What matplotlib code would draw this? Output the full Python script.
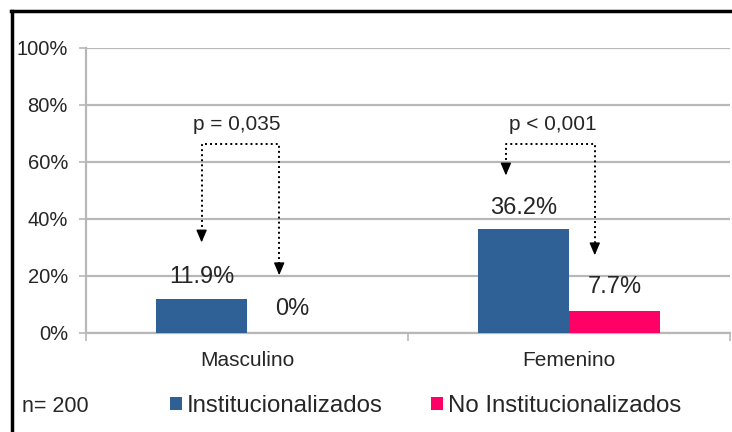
import matplotlib
matplotlib.use("Agg")
import matplotlib.pyplot as plt
from matplotlib.lines import Line2D
import numpy as np

plt.rcParams['font.family'] = ['Liberation Sans', 'DejaVu Sans']

categories = ["Masculino", "Femenino"]
series_names = ["Institucionalizados", "No Institucionalizados"]
inst = [11.9, 36.2]
no_inst = [0.0, 7.7]
value_labels_inst = ["11.9%", "36.2%"]
value_labels_no = ["0%", "7.7%"]
p_texts = ["p = 0,035", "p < 0,001"]
yticks = [0, 20, 40, 60, 80, 100]
ytick_labels = ["0%", "20%", "40%", "60%", "80%", "100%"]
n_text = "n= 200"

blue = "#2F6196"
pink = "#FF0066"
grid_c = "#B8B8B8"
txt_c = "#262626"

fig = plt.figure(figsize=(7.32, 4.32), dpi=100)
ax = fig.add_axes([86/732, 1-332.5/432, (730-86)/732, (332.5-47.5)/432])

x = np.arange(len(categories))
w = 0.283
b1 = ax.bar(x - w/2, inst, w, color=blue, label=series_names[0], zorder=3)
b2 = ax.bar(x + w/2, no_inst, w, color=pink, label=series_names[1], zorder=3)

ax.set_xlim(-0.5, 1.5)
ax.set_ylim(0, 100)
ax.set_yticks(yticks)
ax.set_yticklabels(ytick_labels, fontsize=14.5, color=txt_c)
ax.yaxis.grid(True, color=grid_c, linewidth=1.6, zorder=0)
ax.set_axisbelow(True)
ax.tick_params(axis='y', length=5, width=1.2, color=grid_c, pad=8)

ax.set_xticks(x)
ax.set_xticklabels(categories, fontsize=15, color=txt_c)
ax.set_xticks([-0.5, 0.5, 1.5], minor=True)
ax.tick_params(axis='x', which='major', length=0, pad=13)
ax.tick_params(axis='x', which='minor', length=6, width=1.2, color=grid_c)

for s in ['top', 'right']:
    ax.spines[s].set_visible(False)
for s in ['left', 'bottom']:
    ax.spines[s].set_color(grid_c)
    ax.spines[s].set_linewidth(1.6)

# value labels
for i in range(len(categories)):
    ax.text(x[i] - w/2, inst[i] + 7.5, value_labels_inst[i], ha='center', va='center',
            fontsize=17, color=txt_c)
    ax.text(x[i] + w/2, no_inst[i] + 8.3, value_labels_no[i], ha='center', va='center',
            fontsize=17, color=txt_c)

# p-value brackets (left x, right x, left tip y, right tip y)
bracket_top = 66.3
brackets = [(-0.141, 0.10, 31.6, 20.1), (0.804, 1.08, 55.1, 27.1)]
text_x = [-0.031, 0.95]
dot = dict(color='black', linewidth=1.4, linestyle=(0, (1, 1.6)))
for (xl, xr, yl, yr), tx, pt in zip(brackets, text_x, p_texts):
    ax.plot([xl, xl, xr, xr], [yl + 3.5, bracket_top, bracket_top, yr + 3.5], **dot, zorder=4)
    for xx, yy in [(xl, yl), (xr, yr)]:
        ax.annotate("", xy=(xx, yy), xytext=(xx, yy + 3.8),
                    arrowprops=dict(arrowstyle='-|>,head_length=0.75,head_width=0.32',
                                    color='black', lw=1.0, shrinkA=0, shrinkB=0), zorder=5)
    ax.text(tx, 73.1, pt, ha='center', va='center', fontsize=15, color=txt_c)

# legend
leg = fig.legend(handles=[b1, b2], labels=series_names, loc='center left',
                 bbox_to_anchor=(170/732, 1-406/432), ncol=2, frameon=False,
                 fontsize=17.3, handlelength=0.5, handleheight=0.5, handletextpad=0.2,
                 columnspacing=2.0, borderpad=0, borderaxespad=0)
for t in leg.get_texts():
    t.set_color(txt_c)
fig.text(22/732, 1-406/432, n_text, ha='left', va='center', fontsize=15.5, color=txt_c)

# outer frame (left and top edges visible)
fig.add_artist(Line2D([11.5/732, 11.5/732], [0, 1-11/432], transform=fig.transFigure,
                      color='black', linewidth=2.5))
fig.add_artist(Line2D([10.5/732, 1], [1-11/432, 1-11/432], transform=fig.transFigure,
                      color='black', linewidth=2.5))

fig.savefig("out.png", dpi=100)
